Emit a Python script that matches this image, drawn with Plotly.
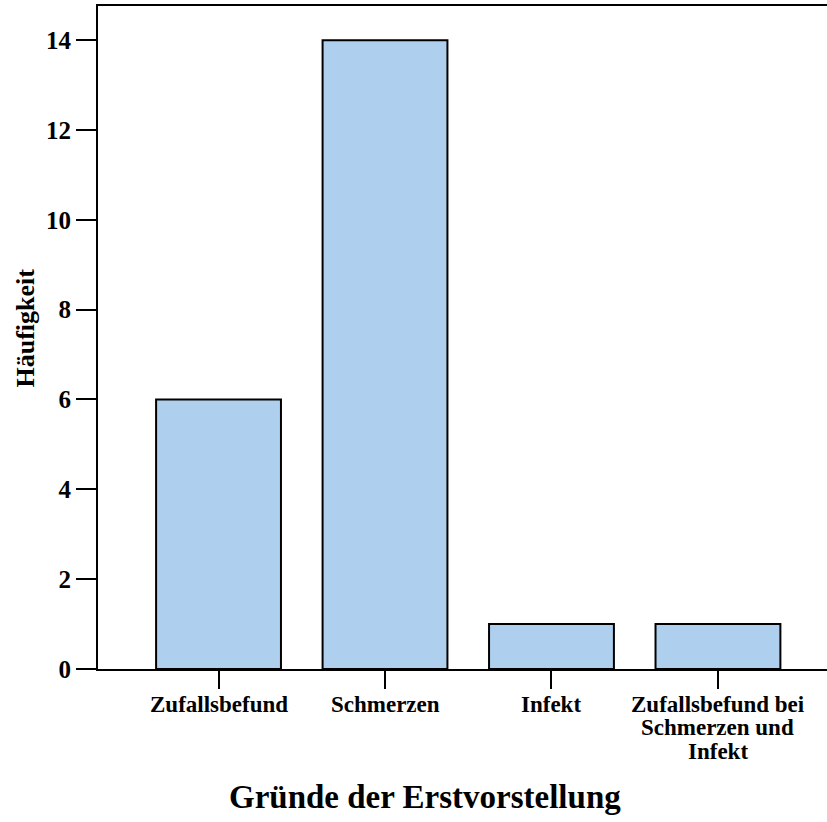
import plotly.graph_objects as go

# Reasons for first presentation and their counts
categories = ["Zufallsbefund", "Schmerzen", "Infekt",
              "Zufallsbefund bei\nSchmerzen und\nInfekt"]
counts = [6, 14, 1, 1]
y_ticks = [0, 2, 4, 6, 8, 10, 12, 14]
x_title = "Gründe der Erstvorstellung"
y_title = "Häufigkeit"

FONT = "Liberation Serif"
BAR_FILL = "#AED0EE"

fig = go.Figure()
fig.add_trace(go.Bar(
    x=categories,
    y=counts,
    width=0.75,
    marker=dict(color=BAR_FILL, line=dict(color="black", width=2)),
    showlegend=False,
    hoverinfo="skip",
))

# Multi-line category labels, one annotation per line for tight line spacing
line_shifts = [-35, -58, -82]
for cat in categories:
    for i, part in enumerate(cat.split("\n")):
        fig.add_annotation(
            x=cat, xref="x", y=0, yref="paper",
            text=part, showarrow=False,
            xanchor="center", yanchor="middle", yshift=line_shifts[i],
            font=dict(family=FONT, size=23, color="black", weight="bold"),
        )

# Axis titles
fig.add_annotation(
    x=0.4486, xref="paper", y=0, yref="paper",
    text=x_title, showarrow=False,
    xanchor="center", yanchor="middle", yshift=-128,
    font=dict(family=FONT, size=33, color="black", weight="bold"),
)
fig.add_annotation(
    x=0, xref="paper", y=0.5, yref="paper",
    text=y_title, showarrow=False, textangle=-90,
    xanchor="center", yanchor="middle", xshift=-73.5, yshift=9.5,
    font=dict(family=FONT, size=26, color="black", weight="bold"),
)

fig.update_layout(
    width=827, height=822,
    margin=dict(l=98, r=0, t=6, b=153),
    paper_bgcolor="white", plot_bgcolor="white",
    bargap=0.25,
)
fig.update_xaxes(
    type="category",
    categoryorder="array", categoryarray=categories,
    range=[-0.724, 3.655],
    showline=True, linecolor="black", linewidth=2, mirror=True,
    ticks="outside", ticklen=18, tickwidth=2, tickcolor="black",
    showticklabels=False, showgrid=False, zeroline=False,
)
fig.update_yaxes(
    range=[0, 14.76],
    tickvals=y_ticks,
    showline=True, linecolor="black", linewidth=2,
    ticks="outside", ticklen=20, tickwidth=2, tickcolor="black",
    tickfont=dict(family=FONT, size=25, color="black", weight="bold"),
    showgrid=False, zeroline=False,
)

fig.write_html("out.html")
